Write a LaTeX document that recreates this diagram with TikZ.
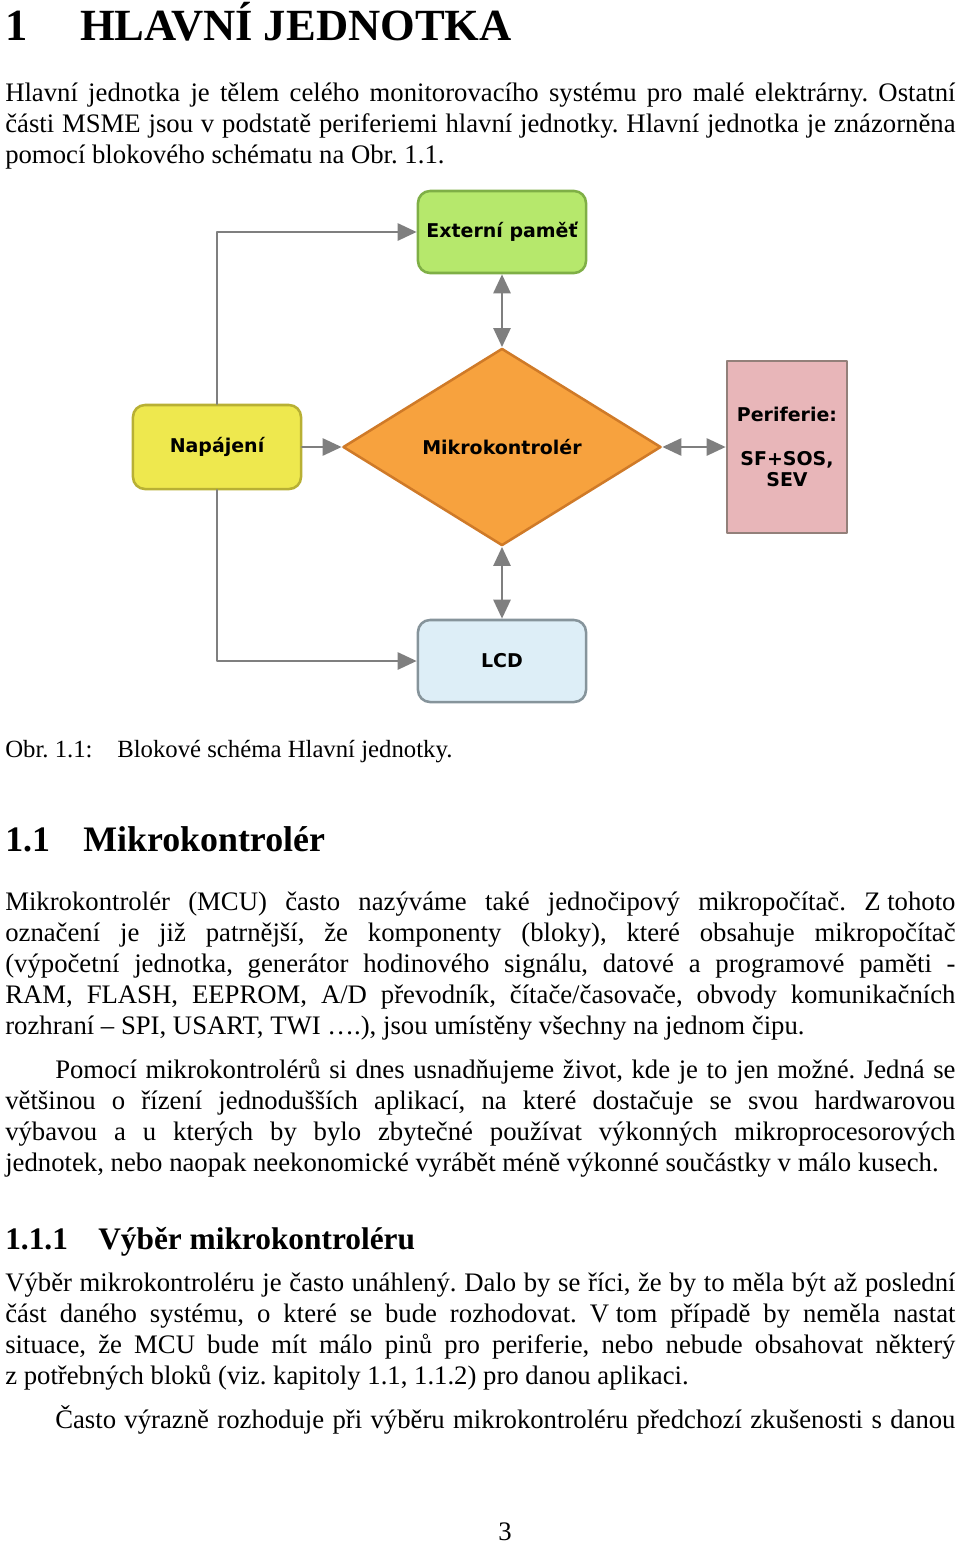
\documentclass[tikz,border=0pt]{standalone}
\usepackage{fontspec}
\setmainfont{Liberation Serif}
\newfontfamily\blockfont{DejaVu Sans}
\usepackage{tikz}
\usetikzlibrary{arrows.meta,shapes.geometric}
\frenchspacing

\definecolor{memfill}{HTML}{B6E86C}
\definecolor{memdraw}{HTML}{7FAF46}
\definecolor{pwrfill}{HTML}{EEE84E}
\definecolor{pwrdraw}{HTML}{B8B034}
\definecolor{mcufill}{HTML}{F7A23E}
\definecolor{mcudraw}{HTML}{CF7A28}
\definecolor{perfill}{HTML}{E8B6B9}
\definecolor{perdraw}{HTML}{93807A}
\definecolor{lcdfill}{HTML}{DDEEF7}
\definecolor{lcddraw}{HTML}{86949B}
\definecolor{conngray}{HTML}{7F7F7F}

\newcommand{\jl}[1]{\makebox[23.75cm][s]{#1}}
\newcommand{\ji}[1]{\makebox[22.5cm][s]{#1}}

\tikzset{
  txt/.style={anchor=base west,inner sep=0pt,font=\fontsize{19}{23}\selectfont},
  captxt/.style={anchor=base west,inner sep=0pt,font=\fontsize{17.6}{22}\selectfont},
  hone/.style={anchor=base west,inner sep=0pt,font=\bfseries\fontsize{31.7}{36}\selectfont},
  htwo/.style={anchor=base west,inner sep=0pt,font=\bfseries\fontsize{25.5}{30}\selectfont},
  hthree/.style={anchor=base west,inner sep=0pt,font=\bfseries\fontsize{22.3}{26}\selectfont},
  block/.style={inner sep=0pt,line width=1.8pt,align=center,font=\blockfont\bfseries\fontsize{13.5}{15.6}\selectfont},
  rbox/.style={block,rectangle,rounded corners=0.3cm,minimum width=4.2cm,minimum height=2.05cm},
  conn/.style={draw=conngray,line width=2.1pt}
}

\begin{document}
\begin{tikzpicture}[line cap=round,line join=round,>={Triangle[length=13.5pt,width=12pt]},x=0.025cm,y=-0.025cm]
    \useasboundingbox (0,0) rectangle (960,1545);
    \node[hone] (num1) at (5,40) {1};
    \node[hone] (head1) at (80,40) {HLAVNÍ JEDNOTKA};
    \node[txt] (p1a) at (5,101) {\jl{Hlavní jednotka je tělem celého monitorovacího systému pro malé elektrárny. Ostatní}};
    \node[txt] (p1b) at (5,132) {\jl{části MSME jsou v podstatě periferiemi hlavní jednotky. Hlavní jednotka je znázorněna}};
    \node[txt] (p1c) at (5,163) {pomocí blokového schématu na Obr. 1.1.};

    \node[rbox,fill=memfill,draw=memdraw] (mem) at (502,232) {Externí paměť};
    \node[block,diamond,fill=mcufill,draw=mcudraw,minimum width=7.95cm,minimum height=4.93cm,aspect=1.61] (mcu) at (502,447) {Mikrokontrolér};
    \node[rbox,fill=pwrfill,draw=pwrdraw,minimum height=2.1cm] (pwr) at (217,447) {Napájení};
    \node[block,rectangle,fill=perfill,draw=perdraw,minimum width=3.0cm,minimum height=4.3cm] (per) at (787,447) {Periferie:\\[15.6pt]SF+SOS,\\SEV};
    \node[rbox,fill=lcdfill,draw=lcddraw] (lcd) at (502,661) {LCD};
    \draw[conn,<->] (mem) -- (mcu);
    \draw[conn,<->] (mcu) -- (lcd);
    \draw[conn,<->] (mcu) -- (per);
    \draw[conn,->] (pwr) -- (mcu);
    \draw[conn,->] (pwr.north) |- (mem.west);
    \draw[conn,->] (pwr.south) |- (lcd.west);

    \node[captxt] (capa) at (5,757) {Obr. 1.1:};
    \node[captxt] (capb) at (117,757) {Blokové schéma Hlavní jednotky.};

    \node[htwo] (num11) at (5,851) {1.1};
    \node[htwo] (head11) at (83,851) {Mikrokontrolér};
    \node[txt] (p2a) at (5,910) {\jl{Mikrokontrolér (MCU) často nazýváme také jednočipový mikropočítač. Z\hspace{0.25em}tohoto}};
    \node[txt] (p2b) at (5,941) {\jl{označení je již patrnější, že komponenty (bloky), které obsahuje mikropočítač}};
    \node[txt] (p2c) at (5,972) {\jl{(výpočetní jednotka, generátor hodinového signálu, datové a programové paměti -}};
    \node[txt] (p2d) at (5,1003) {\jl{RAM, FLASH, EEPROM, A/D převodník, čítače/časovače, obvody komunikačních}};
    \node[txt] (p2e) at (5,1034) {rozhraní – SPI, USART, TWI ….), jsou umístěny všechny na jednom čipu.};

    \node[txt] (p3a) at (55,1078) {\ji{Pomocí mikrokontrolérů si dnes usnadňujeme život, kde je to jen možné. Jedná se}};
    \node[txt] (p3b) at (5,1109) {\jl{většinou o řízení jednodušších aplikací, na které dostačuje se svou hardwarovou}};
    \node[txt] (p3c) at (5,1140) {\jl{výbavou a u kterých by bylo zbytečné používat výkonných mikroprocesorových}};
    \node[txt] (p3d) at (5,1171) {jednotek, nebo naopak neekonomické vyrábět méně výkonné součástky v málo kusech.};

    \node[hthree] (num111) at (5,1249) {1.1.1};
    \node[hthree] (head111) at (98,1249) {Výběr mikrokontroléru};
    \node[txt] (p4a) at (5,1291) {\jl{Výběr mikrokontroléru je často unáhlený. Dalo by se říci, že by to měla být až poslední}};
    \node[txt] (p4b) at (5,1322) {\jl{část daného systému, o které se bude rozhodovat. V\hspace{0.25em}tom případě by neměla nastat}};
    \node[txt] (p4c) at (5,1353) {\jl{situace, že MCU bude mít málo pinů pro periferie, nebo nebude obsahovat některý}};
    \node[txt] (p4d) at (5,1384) {z potřebných bloků (viz. kapitoly 1.1, 1.1.2) pro danou aplikaci.};
    \node[txt] (p5a) at (55,1428) {\ji{Často výrazně rozhoduje při výběru mikrokontroléru předchozí zkušenosti s danou}};

    \node[txt,anchor=base] (pgnum) at (505,1540) {3};
\end{tikzpicture}
\end{document}
